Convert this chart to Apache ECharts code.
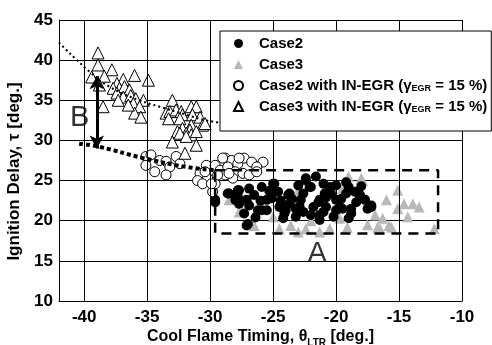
<!DOCTYPE html>
<html>
<head>
<meta charset="utf-8">
<script src="https://cdn.jsdelivr.net/npm/echarts@6/dist/echarts.min.js"></script>
<style>
html, body { margin: 0; padding: 0; background: #fff; }
#chart { width: 492px; height: 345px; }
</style>
</head>
<body>
<div id="chart"></div>
<script>
// tick labels
var xTicks = [-40, -35, -30, -25, -20, -15, -10];
var xGridLines = [-40, -35, -30, -25, -20, -15, -10];

// Case2 (black dots)
var case2 = [
  [-29.6,22.3],[-28.5,23.4],[-27.7,23.8],[-26.9,24.0],[-27.8,23.0],[-27.1,22.6],[-26.9,21.9],[-26.5,23.2],
  [-26.2,21.3],[-25.5,21.3],[-25.0,24.6],[-25.1,22.8],[-24.5,21.7],[-23.8,23.2],[-23.7,22.1],[-24.1,20.9],
  [-23.2,21.5],[-22.6,23.4],[-22.4,25.0],[-22.1,24.2],[-21.6,25.5],[-22.6,21.1],[-21.8,21.7],[-21.4,22.3],
  [-21.0,24.6],[-20.9,23.4],[-20.5,24.2],[-20.4,23.4],[-20.0,24.4],[-20.0,22.6],[-20.8,21.7],[-21.3,20.7],
  [-22.0,20.7],[-19.2,24.8],[-19.0,24.2],[-19.2,23.4],[-18.5,23.6],[-18.1,23.2],[-18.4,22.3],[-17.7,22.6],
  [-17.2,21.9],[-18.8,21.5],[-19.0,20.3],[-19.5,21.5],[-20.0,21.3],[-27.0,19.6],[-25.5,22.6],[-25.9,24.2],
  [-22.4,25.3],[-23.7,23.4],[-22.0,24.2],[-20.5,23.8],[-19.0,23.8],[-18.1,23.0],[-17.5,21.5],[-18.8,20.9],
  [-19.7,21.7],[-21.3,22.6],[-24.0,21.3],[-23.2,20.5],[-24.9,24.6],[-28.6,23.4],[-27.8,23.8],[-29.6,22.6],
  [-24.1,21.7],[-25.9,21.3],[-17.2,21.7],[-24.2,20.3],[-21.3,20.1],[-27.1,19.4],[-27.7,22.1],[-27.3,20.9],
  [-26.0,22.5],[-24.6,23.6],[-23.0,24.4],[-22.8,22.6],[-21.0,21.1],[-20.2,20.5],[-23.5,22.7],[-25.3,23.7],
  [-28.0,22.6],[-26.4,20.4],[-22.9,21.8],[-20.8,22.9],[-19.6,22.7],[-18.0,24.3],[-24.4,22.5]
];

// Case3 (grey triangles)
var case3 = [
  [-28.5,22.6],[-27.7,21.1],[-25.0,20.5],[-23.6,19.4],[-23.0,18.6],[-22.4,19.0],[-21.3,18.6],[-20.5,19.0],
  [-19.7,20.3],[-19.1,19.2],[-19.5,24.0],[-19.0,25.5],[-18.0,25.3],[-19.2,25.0],[-23.0,23.8],[-17.9,25.0],
  [-15.1,23.8],[-16.0,22.6],[-14.6,22.1],[-13.9,22.1],[-13.4,21.7],[-15.1,21.5],[-14.3,20.5],[-16.9,20.7],
  [-16.3,20.3],[-15.8,19.4],[-16.7,19.2],[-15.6,19.2],[-16.5,19.0],[-12.2,19.0],[-26.5,19.4],[-24.5,19.0],
  [-22.0,20.0],[-17.5,19.5]
];

// Case2 with IN-EGR (open circles)
var case2Egr = [
  [-35.1,28.0],[-34.7,28.2],[-34.0,27.5],[-33.5,27.4],[-32.7,28.0],[-33.2,26.7],[-34.4,26.1],[-35.1,26.9],
  [-33.5,25.7],[-32.4,27.1],[-30.3,26.9],[-29.6,26.9],[-28.8,27.8],[-28.3,27.5],[-29.2,26.3],[-28.6,26.7],
  [-27.8,27.1],[-27.3,27.8],[-26.7,27.3],[-25.8,27.3],[-26.3,26.7],[-30.8,25.9],[-31.0,25.0],[-30.2,25.3],
  [-30.6,24.6],[-29.8,23.6],[-29.6,24.6],[-28.0,26.1],[-27.4,25.9],[-26.9,25.7],[-28.2,25.3],[-28.8,25.7],
  [-29.0,27.8],[-27.7,27.8],[-30.4,26.1],[-29.4,25.7],[-28.5,25.9],[-26.3,26.1],[-29.9,24.6]
];

// Case3 with IN-EGR (open triangles)
var case3Egr = [
  [-38.9,40.9],[-38.9,39.4],[-37.8,38.8],[-39.4,37.9],[-36.0,38.1],[-34.9,37.5],[-36.9,37.6],[-38.4,38.0],
  [-38.8,36.9],[-37.4,37.1],[-37.7,36.5],[-37.2,36.5],[-36.8,36.7],[-36.4,36.3],[-37.4,35.9],[-36.9,35.4],
  [-37.3,35.0],[-36.3,35.6],[-35.9,35.2],[-35.3,35.0],[-36.1,34.6],[-35.6,34.2],[-38.5,34.2],[-36.0,33.4],
  [-35.5,32.9],[-36.5,34.4],
  [-33.0,35.0],[-33.5,33.4],[-33.2,33.6],[-32.7,33.8],[-32.3,33.6],[-31.5,34.2],[-31.1,34.2],[-32.2,33.2],
  [-31.4,33.2],[-33.3,32.7],[-32.4,32.7],[-30.8,32.9],[-30.6,31.9],[-30.4,32.1],[-31.5,31.9],[-32.2,31.5],
  [-31.6,31.3],[-31.9,30.9],[-32.6,31.1],[-32.4,30.9],[-31.5,30.7],[-31.9,30.5],[-31.1,31.1],[-33.0,29.8],
  [-31.1,29.4],[-32.0,28.4]
];

// guide curves, box A, arrow B and the two letters
var upperCurve = [[-42,42.2],[-39.6,38.6],[-38,36.7],[-35.6,35.0],[-34,34.2],[-31.9,33.2],[-30.3,32.5],[-28.2,32.0]];
var lowerCurve = [[-40.4,29.6],[-38.8,29.2],[-35.3,27.8],[-31.9,26.7],[-29.6,26.3]];
var boxA = [[-29.6,26.3],[-11.9,26.3],[-11.9,18.4],[-29.6,18.4],[-29.6,26.3]];
var arrowB = [[-39,38.0],[-39,29.0]];
var notes = [[-40.36,32.8,'B'],[-21.5,15.9,'A']];

var FONT = '"Liberation Sans", Arial, sans-serif';

var legendRich = {
    sp: { width: 11 },
    b: { fontFamily: FONT, fontWeight: 'bold', fontSize: 15, color: '#000' },
    s: { fontFamily: FONT, fontWeight: 'bold', fontSize: 9, color: '#000', lineHeight: 10, verticalAlign: 'bottom' }
};

var chart = echarts.init(document.getElementById('chart'));
var option = {
    animation: false,
    backgroundColor: '#fff',
    grid: { left: 59, right: 30, top: 20, bottom: 44, outerBoundsMode: 'none' },
    legend: {
        orient: 'vertical',
        left: 220,
        top: 31,
        z: 10,
        padding: [5, 4, 17, 13],
        itemGap: 6,
        itemWidth: 9,
        itemHeight: 9,
        backgroundColor: '#fff',
        borderColor: '#000',
        borderWidth: 1,
        data: ['Case2', 'Case3', 'Case2 with IN-EGR', 'Case3 with IN-EGR'],
        formatter: function (name) {
            if (name.indexOf('IN-EGR') >= 0) {
                return '{sp|}{b|' + name + ' (γ}{s|EGR}{b| = 15 %)}';
            }
            return '{sp|}{b|' + name + '}';
        },
        textStyle: { rich: legendRich }
    },
    xAxis: {
        type: 'value',
        min: -42,
        max: -10,
        name: '{b|Cool Flame Timing, θ}{s|LTR}{b| [deg.]}',
        nameLocation: 'middle',
        nameGap: 25,
        nameMoveOverlap: false,
        nameTextStyle: {
            rich: {
                b: { fontFamily: FONT, fontWeight: 'bold', fontSize: 16, color: '#000', lineHeight: 22 },
                s: { fontFamily: FONT, fontWeight: 'bold', fontSize: 10, color: '#000', lineHeight: 10, verticalAlign: 'bottom' }
            }
        },
        axisLine: { lineStyle: { color: '#000', width: 1 } },
        // ticks must stay on (length 0) or v6 drops the split lines
        axisTick: { show: true, length: 0 },
        splitLine: { show: false },
        axisLabel: {
            customValues: xTicks,
            margin: 8,
            color: '#000',
            fontFamily: FONT,
            fontWeight: 'bold',
            fontSize: 17
        }
    },
    yAxis: {
        type: 'value',
        min: 10,
        max: 45,
        interval: 5,
        name: 'Ignition Delay, τ [deg.]',
        nameLocation: 'middle',
        nameGap: 34,
        nameRotate: 90,
        nameTextStyle: { fontFamily: FONT, fontWeight: 'bold', fontSize: 17, color: '#000', padding: [0, 22, 0, 0] },
        axisLine: { show: true, lineStyle: { color: '#000', width: 1 } },
        axisTick: { show: true, length: 0 },
        splitLine: { show: true, lineStyle: { color: '#000', width: 1 } },
        axisLabel: { margin: 6, color: '#000', fontFamily: FONT, fontWeight: 'bold', fontSize: 17 }
    },
    series: [
        {
            name: 'Case3',
            type: 'scatter',
            z: 2,
            symbol: 'triangle',
            symbolSize: 11,
            itemStyle: { color: '#b8b8b8', opacity: 1 },
            data: case3,
            markLine: {
                silent: true,
                symbol: ['none', 'none'],
                label: { show: false },
                lineStyle: { color: '#000', width: 1, type: 'solid', opacity: 1 },
                data: xGridLines.map(function (v) { return { xAxis: v }; })
            }
        },
        {
            name: 'Case2',
            type: 'scatter',
            z: 3,
            symbol: 'circle',
            symbolSize: 10,
            itemStyle: { color: '#000', opacity: 1 },
            data: case2
        },
        {
            name: 'Case2 with IN-EGR',
            type: 'scatter',
            z: 4,
            symbol: 'circle',
            symbolSize: 10,
            itemStyle: { color: '#fff', borderColor: '#000', borderWidth: 1, opacity: 1 },
            data: case2Egr
        },
        {
            name: 'Case3 with IN-EGR',
            type: 'scatter',
            z: 4,
            symbol: 'triangle',
            symbolSize: 12,
            itemStyle: { color: '#fff', borderColor: '#000', borderWidth: 1, opacity: 1 },
            data: case3Egr
        },
        {
            name: 'upper',
            type: 'line',
            z: 5,
            smooth: true,
            symbol: 'none',
            silent: true,
            lineStyle: { color: '#000', width: 2, type: [2, 3] },
            data: upperCurve
        },
        {
            name: 'lower',
            type: 'line',
            z: 5,
            smooth: true,
            symbol: 'none',
            silent: true,
            lineStyle: { color: '#000', width: 4, type: [4, 3], cap: 'butt' },
            data: lowerCurve
        },
        {
            name: 'boxA',
            type: 'line',
            z: 5,
            symbol: 'none',
            silent: true,
            lineStyle: { color: '#000', width: 2.5, type: [10, 7] },
            data: boxA
        },
        {
            name: 'notes',
            type: 'scatter',
            z: 6,
            silent: true,
            symbolSize: 0,
            data: notes,
            label: {
                show: true,
                position: 'inside',
                formatter: function (p) { return p.value[2]; },
                fontFamily: FONT,
                fontSize: 29,
                color: '#000'
            },
            markLine: {
                silent: true,
                symbol: ['arrow', 'arrow'],
                symbolSize: [11, 13],
                label: { show: false },
                lineStyle: { color: '#000', width: 3, type: 'solid' },
                data: [[{ coord: arrowB[0] }, { coord: arrowB[1] }]]
            }
        }
    ]
};
chart.setOption(option);
</script>
</body>
</html>
